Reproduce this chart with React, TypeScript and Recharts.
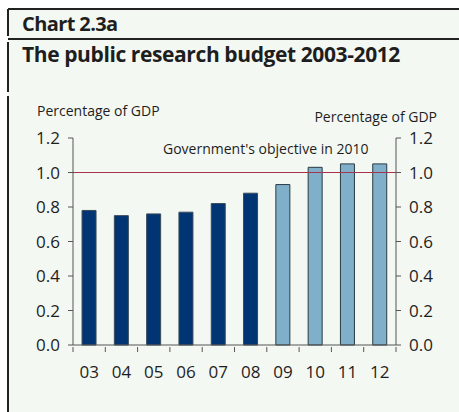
import { Bar, Cell, ComposedChart, Line, ReferenceLine, XAxis, YAxis } from "recharts";

const years = ["03", "04", "05", "06", "07", "08", "09", "10", "11", "12"];
const budgetShare = [0.78, 0.75, 0.76, 0.77, 0.82, 0.88, 0.93, 1.03, 1.05, 1.05];
const projected = [false, false, false, false, false, false, true, true, true, true];
const yTicks = [0, 0.2, 0.4, 0.6, 0.8, 1.0, 1.2];
const objective = 1.0;

const FONT = "'Open Sans', 'DejaVu Sans', sans-serif";
const BG = "#f4f8f2";
const INK = "#1e1e1e";
const AXIS = "#555555";

const rows = years.map((year, i) => ({ year, value: budgetShare[i], projected: projected[i] }));

// category label plus tick marks on the band edges
function YearTick(props: any) {
  const { x, y, payload, index, visibleTicksCount } = props;
  const half = payload?.offset ?? 0;
  const last = index === visibleTicksCount - 1;
  return (
    <g>
      <line x1={x - half} x2={x - half} y1={y} y2={y + 5} stroke={AXIS} />
      {last && <line x1={x + half} x2={x + half} y1={y} y2={y + 5} stroke={AXIS} />}
      <text x={x} y={y + 19} dy="0.71em" textAnchor="middle" fill={INK} fontSize={17} fontFamily={FONT}>
        {payload.value}
      </text>
    </g>
  );
}

export default function App() {
  return (
    <div style={{ position: "absolute", left: 0, top: 0, width: 459, height: 412, background: "#ffffff", fontFamily: FONT }}>
      <div style={{ position: "absolute", left: 8, top: 9, width: 451, height: 403, background: BG }} />
      <div style={{ position: "absolute", left: 8, top: 8, width: 451, height: 1.5, background: "#222" }} />
      <div style={{ position: "absolute", left: 8, top: 38, width: 451, height: 1.5, background: "#222" }} />
      <div style={{ position: "absolute", left: 7, top: 9, width: 2, height: 27, background: "#222" }} />
      <div style={{ position: "absolute", left: 7, top: 42, width: 2, height: 50, background: "#222" }} />
      <div style={{ position: "absolute", left: 7, top: 96, width: 2, height: 316, background: "#222" }} />
      <div style={{ position: "absolute", left: 22, top: 10, fontSize: 20, fontWeight: 700, color: INK, letterSpacing: -0.6, whiteSpace: "nowrap" }}>
        Chart 2.3a
      </div>
      <div style={{ position: "absolute", left: 22, top: 40, fontSize: 21, fontWeight: 700, color: INK, letterSpacing: -0.4, whiteSpace: "nowrap" }}>
        The public research budget 2003-2012
      </div>
      <div style={{ position: "absolute", left: 37, top: 101, fontSize: 14, color: INK, whiteSpace: "nowrap" }}>
        Percentage of GDP
      </div>
      <div style={{ position: "absolute", right: 22, top: 107, fontSize: 14, color: INK, whiteSpace: "nowrap" }}>
        Percentage of GDP
      </div>
      <div style={{ position: "absolute", left: 163, top: 139, fontSize: 14, color: INK, whiteSpace: "nowrap" }}>
        Government's objective in 2010
      </div>
      <div style={{ position: "absolute", left: 0, top: 0 }}>
        <ComposedChart
          width={459}
          height={412}
          data={rows}
          margin={{ top: 138, right: 0, bottom: 0, left: 0 }}
          barCategoryGap="28%"
        >
          <XAxis
            dataKey="year"
            height={67}
            tickSize={0}
            axisLine={{ stroke: AXIS }}
            tickLine={false}
            interval={0}
            tick={<YearTick />}
          />
          <YAxis
            yAxisId="left"
            orientation="left"
            width={73}
            domain={[0, 1.2]}
            ticks={yTicks}
            interval={0}
            tickFormatter={(v: number) => v.toFixed(1)}
            tickSize={5}
            tickMargin={8}
            axisLine={{ stroke: AXIS }}
            tickLine={{ stroke: AXIS }}
            tick={{ fill: INK, fontSize: 17, fontFamily: FONT }}
          />
          <YAxis
            yAxisId="right"
            orientation="right"
            width={63}
            domain={[0, 1.2]}
            ticks={yTicks}
            interval={0}
            tickFormatter={(v: number) => v.toFixed(1)}
            tickSize={5}
            tickMargin={8}
            axisLine={{ stroke: AXIS }}
            tickLine={{ stroke: AXIS }}
            tick={{ fill: INK, fontSize: 17, fontFamily: FONT }}
          />
          <ReferenceLine yAxisId="left" y={objective} stroke="#a8334f" strokeWidth={1} />
          <Bar yAxisId="left" dataKey="value" isAnimationActive={false} strokeWidth={1}>
            {rows.map((r) => (
              <Cell key={r.year} fill={r.projected ? "#80b0c9" : "#003473"} stroke={r.projected ? "#2a3a44" : "#3a4a5a"} />
            ))}
          </Bar>
          {/* invisible series so the right-hand axis gets its ticks */}
          <Line
            yAxisId="right"
            dataKey="value"
            stroke="none"
            dot={false}
            activeDot={false}
            legendType="none"
            isAnimationActive={false}
          />
        </ComposedChart>
      </div>
    </div>
  );
}
